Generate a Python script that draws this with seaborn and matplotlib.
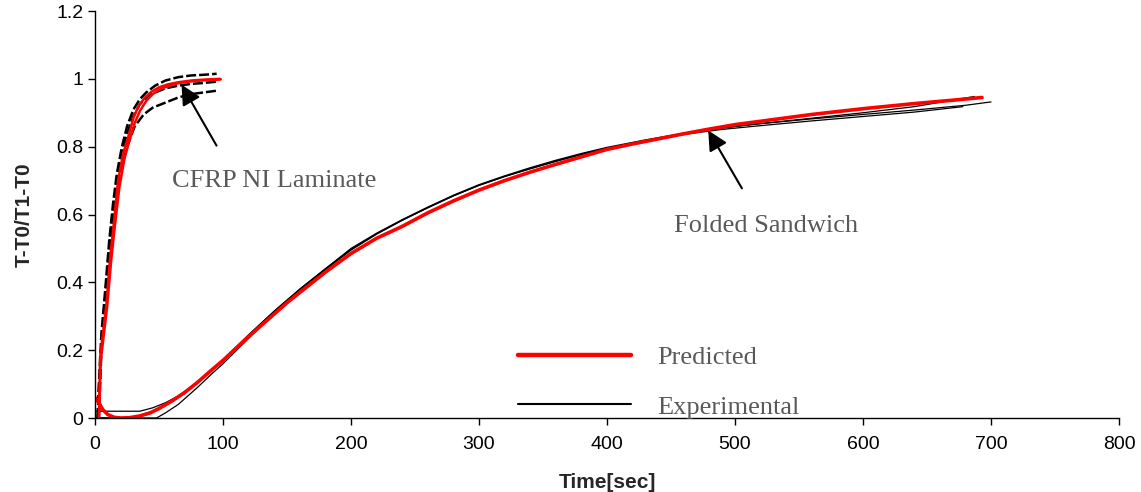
import numpy as np
import pandas as pd
import matplotlib
matplotlib.use('Agg')
import matplotlib.pyplot as plt
import seaborn as sns
from matplotlib.lines import Line2D

# folded sandwich - predicted
sw_pred_t = [0, 3, 6, 10, 15, 20, 27, 35, 43, 50, 60, 70, 80, 90, 100, 110, 120, 135,
             150, 165, 180, 200, 220, 240, 260, 280, 300, 320, 340, 360, 380, 400, 420,
             440, 460, 480, 500, 530, 560, 600, 640, 670, 693]
sw_pred_y = [0.06, 0.045, 0.025, 0.01, 0.002, 0.0, 0.001, 0.006, 0.015, 0.028, 0.05,
             0.075, 0.105, 0.138, 0.17, 0.205, 0.24, 0.29, 0.34, 0.385, 0.43, 0.485,
             0.53, 0.565, 0.605, 0.64, 0.672, 0.70, 0.725, 0.748, 0.77, 0.792, 0.808,
             0.823, 0.838, 0.852, 0.865, 0.88, 0.895, 0.912, 0.927, 0.937, 0.945]

# folded sandwich - experimental (three thermocouples)
sw_exp1_t = [0, 35, 45, 55, 65, 80, 100, 120, 140, 160, 180, 200, 220, 240, 260, 280,
             300, 320, 340, 360, 380, 400, 430, 460, 490, 520, 560, 600, 640, 680, 700]
sw_exp1_y = [0.02, 0.02, 0.03, 0.045, 0.065, 0.105, 0.17, 0.245, 0.315, 0.38, 0.44,
             0.50, 0.545, 0.585, 0.622, 0.657, 0.688, 0.714, 0.738, 0.76, 0.78, 0.798,
             0.82, 0.84, 0.856, 0.868, 0.882, 0.895, 0.908, 0.922, 0.932]
sw_exp2_t = [0, 48, 55, 65, 80, 92, 100, 120, 140, 160, 180, 200, 220, 240, 260, 280,
             300, 320, 340, 360, 380, 400, 430, 460, 490, 520, 560, 600, 640, 678]
sw_exp2_y = [0, 0, 0.015, 0.04, 0.09, 0.133, 0.16, 0.235, 0.31, 0.375, 0.437, 0.495,
             0.542, 0.583, 0.62, 0.655, 0.686, 0.712, 0.735, 0.757, 0.777, 0.795, 0.817,
             0.836, 0.851, 0.862, 0.876, 0.889, 0.902, 0.918]
sw_exp3_t = [0, 25, 35, 45, 55, 65, 80, 100, 120, 140, 160, 180, 200, 220, 240, 260,
             280, 300, 320, 340, 360, 380, 400, 430, 460, 490, 520, 560, 600, 640, 687]
sw_exp3_y = [0.0, 0.0, 0.008, 0.02, 0.04, 0.062, 0.105, 0.172, 0.245, 0.315, 0.38,
             0.44, 0.497, 0.543, 0.583, 0.62, 0.655, 0.686, 0.712, 0.735, 0.757, 0.777,
             0.795, 0.818, 0.838, 0.855, 0.868, 0.884, 0.9, 0.918, 0.948]

# CFRP NI laminate - predicted
lam_pred1_t = [3, 4, 6.5, 9, 11.7, 14.3, 18, 22, 26, 30, 34, 39, 44, 50, 57, 65, 75, 86, 98]
lam_pred1_y = [0.0, 0.18, 0.26, 0.34, 0.47, 0.56, 0.70, 0.78, 0.83, 0.885, 0.92, 0.945,
               0.962, 0.975, 0.984, 0.99, 0.995, 0.998, 1.0]
lam_pred2_t = [3, 4.5, 7, 9.5, 12.5, 15, 19, 23, 27, 31, 35, 40, 45, 51, 58, 66, 76, 87, 98]
lam_pred2_y = [0.0, 0.17, 0.25, 0.33, 0.46, 0.55, 0.68, 0.765, 0.82, 0.87, 0.905, 0.935,
               0.955, 0.97, 0.98, 0.988, 0.993, 0.996, 0.998]

# CFRP NI laminate - experimental
lam_exp1_t = [2, 3, 5, 8, 11, 14, 17, 21, 25, 30, 35, 40, 47, 55, 65, 75, 85, 95]
lam_exp1_y = [0, 0.1, 0.25, 0.38, 0.52, 0.63, 0.72, 0.80, 0.86, 0.91, 0.94, 0.96, 0.98,
              0.995, 1.005, 1.01, 1.012, 1.015]
lam_exp2_t = [2, 3, 5, 8, 11, 14, 17, 21, 25, 30, 35, 40, 47, 55, 65, 75, 85, 96]
lam_exp2_y = [0, 0.08, 0.22, 0.36, 0.50, 0.61, 0.70, 0.78, 0.84, 0.89, 0.925, 0.945, 0.96,
              0.972, 0.98, 0.985, 0.988, 0.992]
lam_exp3_t = [3, 5, 8, 11, 14, 17, 21, 25, 31, 38, 45, 55, 65, 75, 85, 95]
lam_exp3_y = [0, 0.2, 0.35, 0.48, 0.58, 0.66, 0.74, 0.80, 0.86, 0.895, 0.915, 0.93,
              0.945, 0.955, 0.96, 0.965]

x_ticks = [0, 100, 200, 300, 400, 500, 600, 700, 800]
y_ticks = [0, 0.2, 0.4, 0.6, 0.8, 1.0, 1.2]
y_tick_labels = ['0', '0.2', '0.4', '0.6', '0.8', '1', '1.2']

sns.set_style('ticks')
plt.rcParams['font.family'] = ['Liberation Sans', 'DejaVu Sans']

fig = plt.figure(figsize=(11.41, 4.92), dpi=100)
ax = fig.add_axes([0.0833, 0.1504, 0.8974, 0.8272])

exp_sw = [(sw_exp1_t, sw_exp1_y), (sw_exp2_t, sw_exp2_y), (sw_exp3_t, sw_exp3_y)]
for t, y in exp_sw:
    sns.lineplot(x=t, y=y, ax=ax, color='black', linewidth=0.9, estimator=None, sort=False)

exp_lam = [(lam_exp1_t, lam_exp1_y), (lam_exp2_t, lam_exp2_y), (lam_exp3_t, lam_exp3_y)]
for t, y in exp_lam:
    sns.lineplot(x=t, y=y, ax=ax, color='black', linewidth=1.8, estimator=None, sort=False,
                 dashes=False, linestyle=(0, (4, 1.2)))

for t, y in [(lam_pred1_t, lam_pred1_y), (lam_pred2_t, lam_pred2_y)]:
    sns.lineplot(x=t, y=y, ax=ax, color='#ff0000', linewidth=1.8, estimator=None, sort=False)

sns.lineplot(x=sw_pred_t, y=sw_pred_y, ax=ax, color='#ff0000', linewidth=2.6,
             estimator=None, sort=False)

ax.set_xlim(0, 800)
ax.set_ylim(0, 1.2)
ax.set_xticks(x_ticks)
ax.set_yticks(y_ticks)
ax.set_yticklabels(y_tick_labels)
ax.tick_params(labelsize=14, length=5, width=1, colors='black')
ax.tick_params(axis='x', pad=8)
sns.despine(ax=ax)
for s in ['left', 'bottom']:
    ax.spines[s].set_linewidth(1)
    ax.spines[s].set_color('black')

ax.set_xlabel('Time[sec]', fontsize=15, fontweight='bold', labelpad=14)
ax.set_ylabel('T-T0/T1-T0', fontsize=15, fontweight='bold', labelpad=16)

serif = ['Liberation Serif', 'DejaVu Serif']
grey = '#595959'
ax.annotate('', xy=(66.5, 0.99), xytext=(96, 0.796),
            arrowprops=dict(arrowstyle='-|>', color='black', lw=1.5, mutation_scale=30))
ax.text(140, 0.70, 'CFRP NI Laminate', family=serif, fontsize=19, color=grey,
        ha='center', va='center')
ax.annotate('', xy=(478, 0.855), xytext=(506.5, 0.67),
            arrowprops=dict(arrowstyle='-|>', color='black', lw=1.5, mutation_scale=30))
ax.text(524, 0.565, 'Folded Sandwich', family=serif, fontsize=19, color=grey,
        ha='center', va='center')

handles = [Line2D([], [], color='#ff0000', linewidth=3.2),
           Line2D([], [], color='black', linewidth=1.5)]
ax.legend(handles, ['Predicted', 'Experimental'], loc='upper left',
          bbox_to_anchor=(0.400, 0.21), frameon=False, handlelength=4.3,
          handletextpad=1.0, labelspacing=0.98, borderpad=0,
          prop={'family': serif, 'size': 19}, labelcolor=grey)

fig.savefig('out.png', dpi=100)
